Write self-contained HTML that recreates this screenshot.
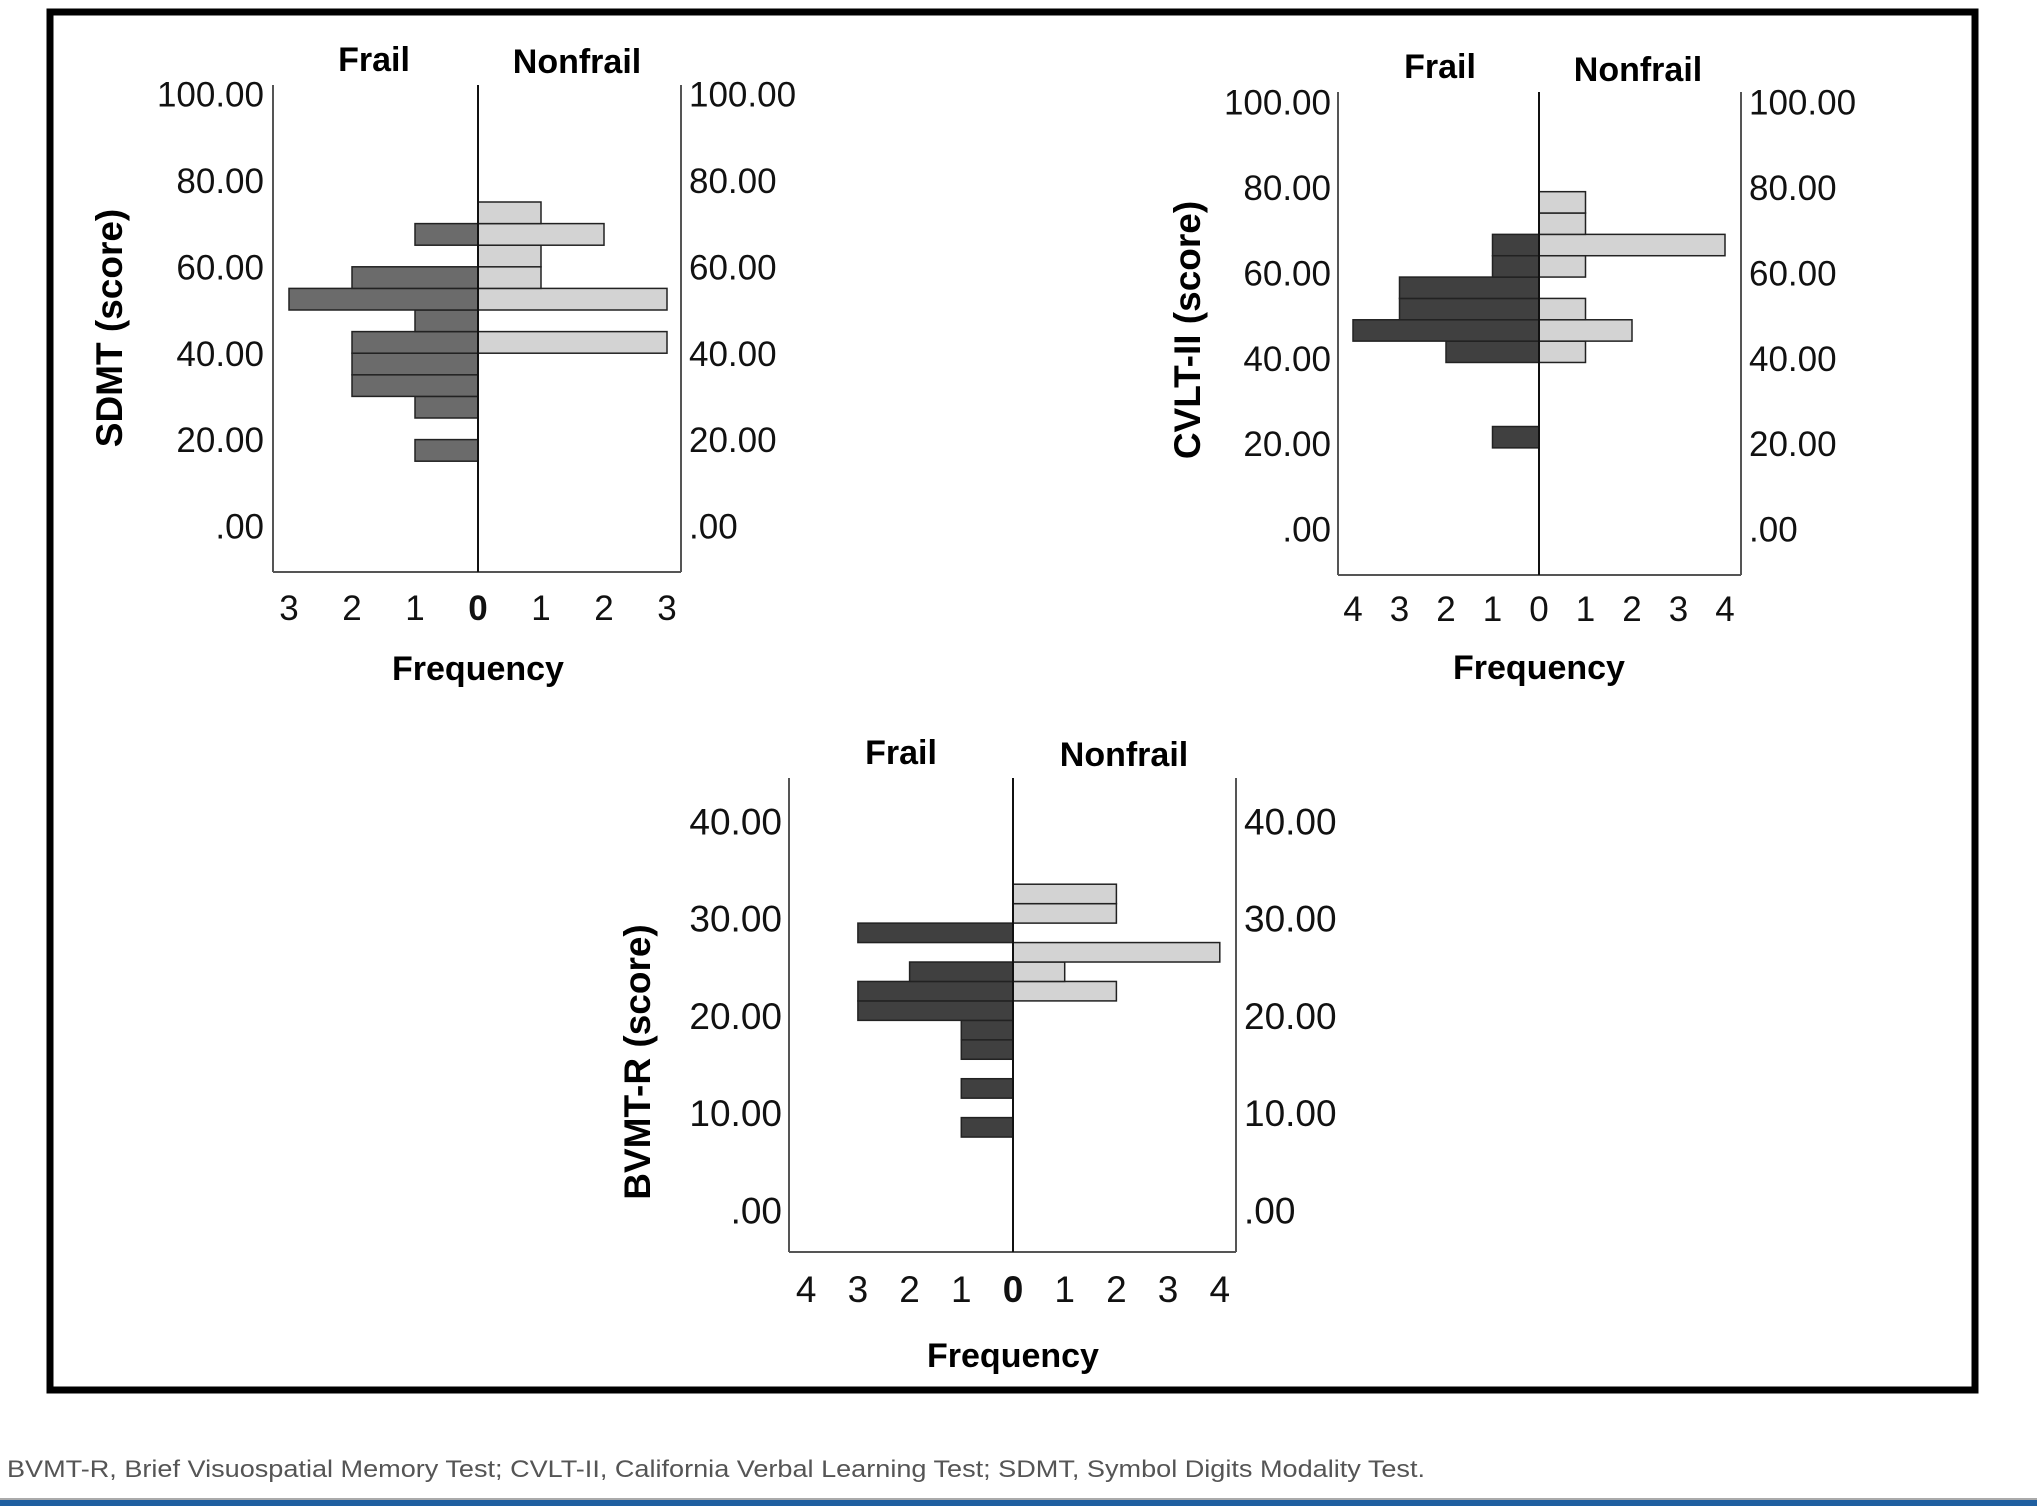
<!DOCTYPE html>
<html><head><meta charset="utf-8">
<style>
html,body{margin:0;padding:0;background:#fff;}
svg{display:block;font-family:"Liberation Sans",Arial,sans-serif;}
</style></head>
<body>
<svg id="fig" width="2037" height="1511" viewBox="0 0 2037 1511" xmlns="http://www.w3.org/2000/svg">
<rect x="50" y="12" width="1925" height="1378" fill="none" stroke="#000" stroke-width="7"/>
<g id="c1"></g>
<g id="c2"></g>
<g id="c3"></g>
<text x="7" y="1477" font-size="24" fill="#555" textLength="1418" lengthAdjust="spacingAndGlyphs">BVMT-R, Brief Visuospatial Memory Test; CVLT-II, California Verbal Learning Test; SDMT, Symbol Digits Modality Test.</text>
<rect x="0" y="1498" width="2037" height="2" fill="#aaa"/>
<rect x="0" y="1500" width="2037" height="6" fill="#1f5fa0"/>
</svg>
<script>
// SDMT data (bin lower edge, bin width 5)
const sdmtFrailBins = [15, 25, 30, 35, 40, 45, 50, 55, 65];
const sdmtFrailCounts = [1, 1, 2, 2, 2, 1, 3, 2, 1];
const sdmtNonfrailBins = [40, 50, 55, 60, 65, 70];
const sdmtNonfrailCounts = [3, 3, 1, 1, 2, 1];
const sdmtYTicks = [0, 20, 40, 60, 80, 100];
const sdmtYTickLabels = [".00", "20.00", "40.00", "60.00", "80.00", "100.00"];
const sdmtXTicks = [3, 2, 1, 0, 1, 2, 3];
// CVLT-II data (bin width 5)
const cvltFrailBins = [19, 39, 44, 49, 54, 59, 64];
const cvltFrailCounts = [1, 2, 4, 3, 3, 1, 1];
const cvltNonfrailBins = [39, 44, 49, 59, 64, 69, 74];
const cvltNonfrailCounts = [1, 2, 1, 1, 4, 1, 1];
const cvltYTicks = [0, 20, 40, 60, 80, 100];
const cvltYTickLabels = [".00", "20.00", "40.00", "60.00", "80.00", "100.00"];
const cvltXTicks = [4, 3, 2, 1, 0, 1, 2, 3, 4];
// BVMT-R data (bin width 2)
const bvmtFrailBins = [7.5, 11.5, 15.5, 17.5, 19.5, 21.5, 23.5, 27.5];
const bvmtFrailCounts = [1, 1, 1, 1, 3, 3, 2, 3];
const bvmtNonfrailBins = [21.5, 23.5, 25.5, 29.5, 31.5];
const bvmtNonfrailCounts = [2, 1, 4, 2, 2];
const bvmtYTicks = [0, 10, 20, 30, 40];
const bvmtYTickLabels = [".00", "10.00", "20.00", "30.00", "40.00"];
const bvmtXTicks = [4, 3, 2, 1, 0, 1, 2, 3, 4];

const NS = "http://www.w3.org/2000/svg";
function mk(parent, tag, attrs, text) {
  const e = document.createElementNS(NS, tag);
  for (const k in attrs) e.setAttribute(k, attrs[k]);
  if (text !== undefined) e.textContent = text;
  parent.appendChild(e);
  return e;
}

function drawChart(g, cfg) {
  const yScale = v => cfg.y0px + v * (cfg.y1px - cfg.y0px) / cfg.yMaxTick;
  const xUnit = cfg.unit;
  let e;
  e = mk(g, "line", {x1: cfg.left, y1: cfg.top, x2: cfg.left, y2: cfg.bottom, stroke: "#555", "stroke-width": 2});
  
  
  e = mk(g, "line", {x1: cfg.right, y1: cfg.top, x2: cfg.right, y2: cfg.bottom, stroke: "#555", "stroke-width": 2});
  
  
  e = mk(g, "line", {x1: cfg.left, y1: cfg.bottom, x2: cfg.right, y2: cfg.bottom, stroke: "#555", "stroke-width": 2});
  
  
  const drawBars = (bins, counts, dir, fill, name) => {
    bins.forEach((b, i) => {
      const yTop = yScale(b + cfg.binW), yBot = yScale(b);
      const w = counts[i] * xUnit;
      const x = dir < 0 ? cfg.center - w : cfg.center;
      const r = mk(g, "rect", {x: x, y: yTop, width: w, height: yBot - yTop, fill: fill, stroke: "#222", "stroke-width": 1.5});
      
      
    });
  };
  drawBars(cfg.fBins, cfg.fCounts, -1, cfg.frailFill, 'frail-bar');
  drawBars(cfg.nBins, cfg.nCounts, 1, "#d3d3d3", 'nonfrail-bar');
  e = mk(g, "line", {x1: cfg.center, y1: cfg.top, x2: cfg.center, y2: cfg.bottom, stroke: "#111", "stroke-width": 2});
  
  
  cfg.yTicks.forEach((t, i) => {
    const y = yScale(t) + cfg.tickFs * 0.36;
    let a = mk(g, "text", {x: cfg.lblRightEnd, y: y, "text-anchor": "end", "font-size": cfg.tickFs, fill: "#111"}, cfg.yLabels[i]);
    
    
    let b = mk(g, "text", {x: cfg.lblLeftStart, y: y, "text-anchor": "start", "font-size": cfg.tickFs, fill: "#111"}, cfg.yLabels[i]);
    
    
  });
  const n = cfg.xTicks.length, half = (n - 1) / 2;
  cfg.xTicks.forEach((t, i) => {
    const x = cfg.center + (i - half) * xUnit;
    const tx = mk(g, "text", {x: x, y: cfg.xLblY, "text-anchor": "middle", "font-size": cfg.tickFs, fill: "#111", "font-weight": (t === 0 && cfg.boldZero) ? "bold" : "normal"}, String(t));
    
    
  });
  e = mk(g, "text", {x: cfg.frailX, y: cfg.frailY, "text-anchor": "middle", "font-size": cfg.titleFs, "font-weight": "bold"}, "Frail");
  
  
  e = mk(g, "text", {x: cfg.nonX, y: cfg.nonY, "text-anchor": "middle", "font-size": cfg.titleFs, "font-weight": "bold"}, "Nonfrail");
  
  
  e = mk(g, "text", {x: cfg.center, y: cfg.freqY, "text-anchor": "middle", "font-size": cfg.titleFs, "font-weight": "bold"}, "Frequency");
  
  
  e = mk(g, "text", {x: 0, y: 0, "text-anchor": "middle", "font-size": cfg.yTitleFs, "font-weight": "bold", "xml:space": "preserve", transform: `translate(${cfg.yTitleX},${cfg.yTitleY}) rotate(-90)`}, cfg.yTitle);
  
  
}

drawChart(document.getElementById('c1'), {
  left: 273, right: 681, center: 478, top: 85, bottom: 572,
  y0px: 526, y1px: 94, yMaxTick: 100, binW: 5, unit: 63,
  fBins: sdmtFrailBins, fCounts: sdmtFrailCounts, nBins: sdmtNonfrailBins, nCounts: sdmtNonfrailCounts,
  frailFill: "#6b6b6b", yTicks: sdmtYTicks, yLabels: sdmtYTickLabels, xTicks: sdmtXTicks, boldZero: true,
  tickFs: 35, titleFs: 34, yTitleFs: 37, lblRightEnd: 264, lblLeftStart: 689, xLblY: 620,
  frailX: 374, frailY: 71, nonX: 577, nonY: 73, freqY: 680, yTitleX: 122, yTitleY: 328, yTitle: "SDMT (score)"
});
drawChart(document.getElementById('c2'), {
  left: 1338, right: 1741, center: 1539, top: 92, bottom: 575,
  y0px: 529, y1px: 102, yMaxTick: 100, binW: 5, unit: 46.5,
  fBins: cvltFrailBins, fCounts: cvltFrailCounts, nBins: cvltNonfrailBins, nCounts: cvltNonfrailCounts,
  frailFill: "#404040", yTicks: cvltYTicks, yLabels: cvltYTickLabels, xTicks: cvltXTicks, boldZero: false,
  tickFs: 35, titleFs: 34, yTitleFs: 37, lblRightEnd: 1331, lblLeftStart: 1749, xLblY: 621,
  frailX: 1440, frailY: 78, nonX: 1638, nonY: 81, freqY: 679, yTitleX: 1200, yTitleY: 330, yTitle: "CVLT-II  (score)"
});
drawChart(document.getElementById('c3'), {
  left: 789, right: 1236, center: 1013, top: 778, bottom: 1252,
  y0px: 1210, y1px: 821, yMaxTick: 40, binW: 2, unit: 51.7,
  fBins: bvmtFrailBins, fCounts: bvmtFrailCounts, nBins: bvmtNonfrailBins, nCounts: bvmtNonfrailCounts,
  frailFill: "#404040", yTicks: bvmtYTicks, yLabels: bvmtYTickLabels, xTicks: bvmtXTicks, boldZero: true,
  tickFs: 37, titleFs: 34, yTitleFs: 37, lblRightEnd: 782, lblLeftStart: 1244, xLblY: 1302,
  frailX: 901, frailY: 764, nonX: 1124, nonY: 766, freqY: 1367, yTitleX: 650, yTitleY: 1062, yTitle: "BVMT-R (score)"
});
</script>
</body></html>
